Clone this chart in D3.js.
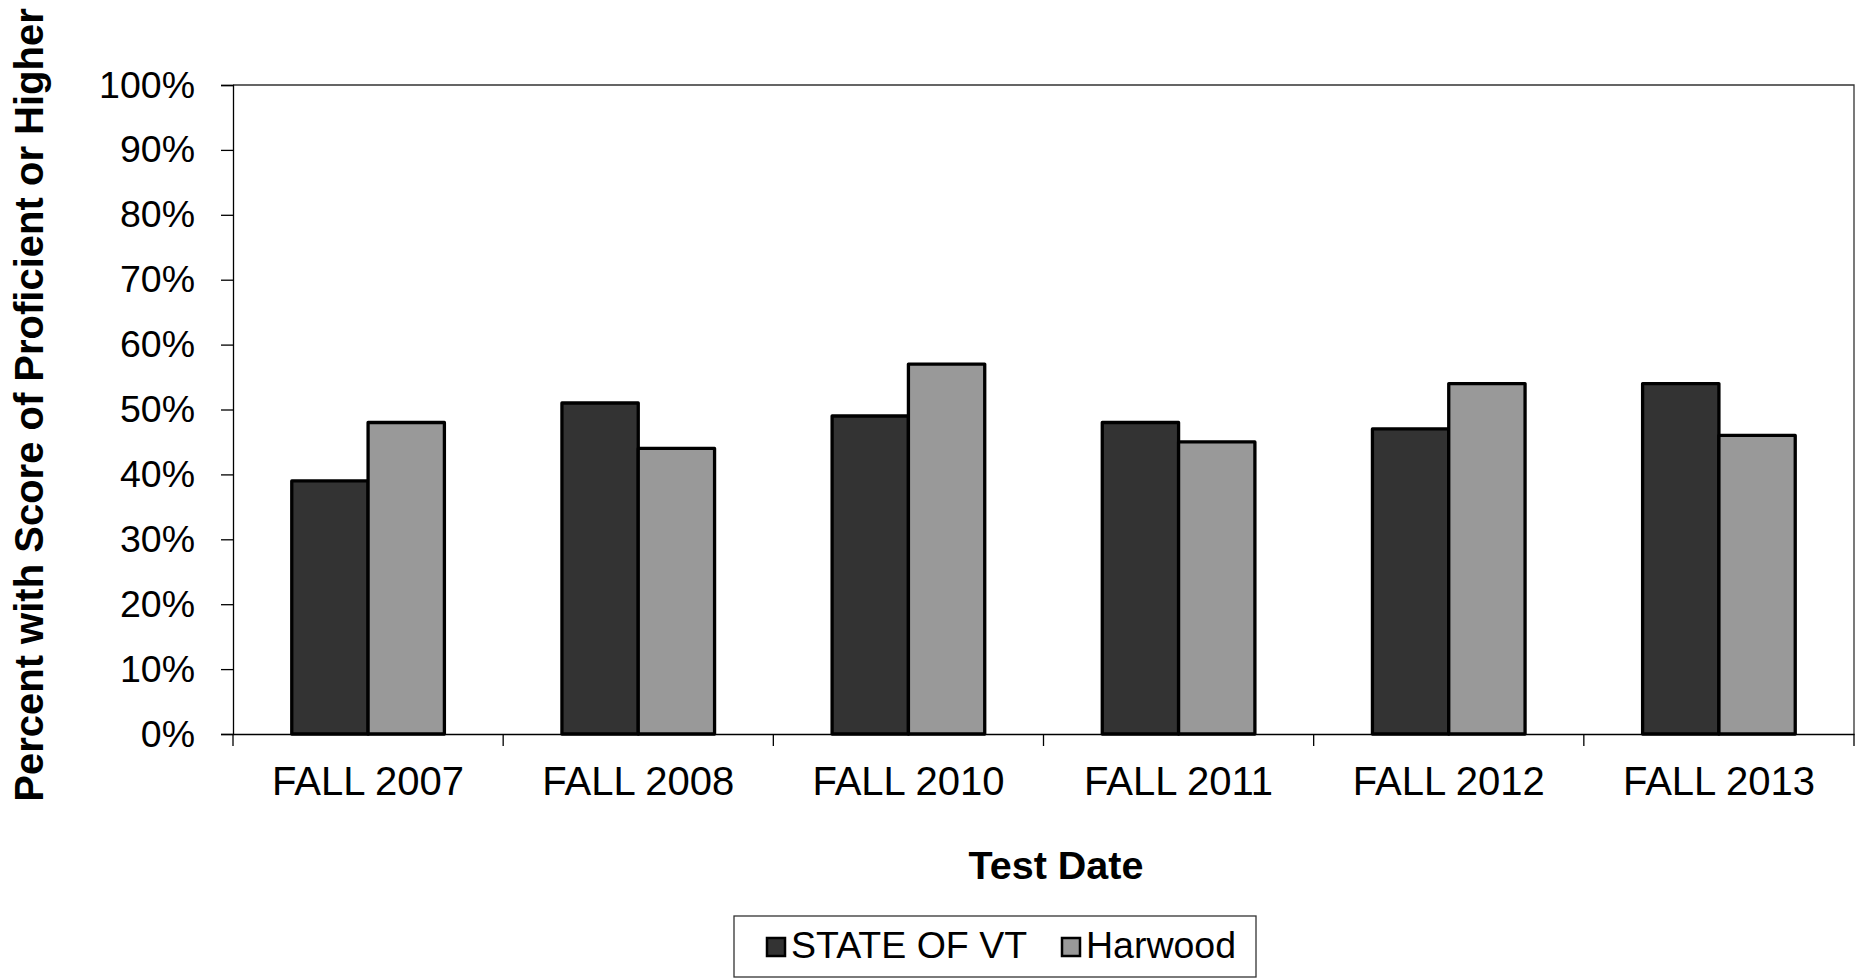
<!DOCTYPE html>
<html>
<head>
<meta charset="utf-8">
<script src="https://cdn.jsdelivr.net/npm/d3@7"></script>
<style>
  html, body { margin: 0; padding: 0; background: #fff; }
  svg { display: block; font-family: "Liberation Sans", Arial, sans-serif; }
</style>
</head>
<body>
<svg id="chart" width="1855" height="979"></svg>
<script>
// data
const categories = ["FALL 2007", "FALL 2008", "FALL 2010", "FALL 2011", "FALL 2012", "FALL 2013"];
const seriesNames = ["STATE OF VT", "Harwood"];
const stateVT = [39, 51, 49, 48, 47, 54];
const harwood = [48, 44, 57, 45, 54, 46];
const yTicks = [0, 10, 20, 30, 40, 50, 60, 70, 80, 90, 100];
const colors = ["#333333", "#999999"];

const svg = d3.select("#chart");
const plotL = 233, plotR = 1854, plotT = 85, plotB = 734;

// scales
const x0 = d3.scaleBand().domain(categories).range([plotL, plotR]);
const x1 = d3.scaleBand().domain(seriesNames).range([0, x0.bandwidth()]).paddingOuter(0.77);
const y = d3.scaleLinear().domain([0, 100]).range([plotB, plotT]);

// plot border (top / right)
svg.append("path")
  .attr("d", `M${plotL},${plotT}H${plotR}V${plotB}`)
  .attr("fill", "none")
  .attr("stroke", "#333")
  .attr("stroke-width", 1.3);

// bars
const rows = categories.map((c, i) => ({ cat: c, vals: [stateVT[i], harwood[i]] }));
const g = svg.append("g");
rows.forEach(r => {
  r.vals.forEach((v, j) => {
    g.append("rect")
      .attr("x", x0(r.cat) + x1(seriesNames[j]))
      .attr("y", y(v))
      .attr("width", x1.bandwidth())
      .attr("height", y(0) - y(v))
      .attr("fill", colors[j])
      .attr("stroke", "#000")
      .attr("stroke-width", 3.3)
      .attr("stroke-linejoin", "round");
  });
});

// y axis
const yAxis = svg.append("g")
  .attr("transform", `translate(${plotL},0)`)
  .call(d3.axisLeft(y).tickValues(yTicks).tickFormat(d => d + "%").tickSize(12).tickPadding(26));
yAxis.select(".domain").attr("stroke", "#000").attr("stroke-width", 1.3);
yAxis.selectAll(".tick line").attr("stroke", "#000").attr("stroke-width", 1.3);
yAxis.selectAll("text").attr("font-size", 37.5).attr("fill", "#000")
  .attr("font-family", "'Liberation Sans', Arial, sans-serif");

// x axis: line + boundary ticks
const xAxis = svg.append("g")
  .attr("transform", `translate(0,${plotB})`)
  .call(d3.axisBottom(x0).tickSize(0).tickPadding(33));
xAxis.select(".domain").attr("stroke", "#000").attr("stroke-width", 1.3);
xAxis.selectAll("text").attr("font-size", 40).attr("fill", "#000")
  .attr("font-family", "'Liberation Sans', Arial, sans-serif");

const bounds = categories.map(c => x0(c)).concat([plotR]);
svg.append("g").selectAll("line").data(bounds).join("line")
  .attr("x1", d => d).attr("x2", d => d)
  .attr("y1", plotB).attr("y2", plotB + 12)
  .attr("stroke", "#000").attr("stroke-width", 1.3);

// axis titles
svg.append("text")
  .attr("x", 1056).attr("y", 879)
  .attr("text-anchor", "middle")
  .attr("font-size", 39.5).attr("font-weight", "bold")
  .text("Test Date");

svg.append("text")
  .attr("transform", "translate(43,405) rotate(-90)")
  .attr("text-anchor", "middle")
  .attr("font-size", 40).attr("font-weight", "bold")
  .text("Percent with Score of Proficient or Higher");

// legend
const lg = svg.append("g");
lg.append("rect")
  .attr("x", 734).attr("y", 916).attr("width", 522).attr("height", 61)
  .attr("fill", "#fff").attr("stroke", "#333").attr("stroke-width", 1.3);
const legendX = [767, 1062];
seriesNames.forEach((s, j) => {
  lg.append("rect")
    .attr("x", legendX[j]).attr("y", 938).attr("width", 18).attr("height", 18)
    .attr("fill", colors[j]).attr("stroke", "#000").attr("stroke-width", 2.5);
  lg.append("text")
    .attr("x", legendX[j] + 24).attr("y", 958)
    .attr("font-size", 37.5)
    .text(s);
});
</script>
</body>
</html>
